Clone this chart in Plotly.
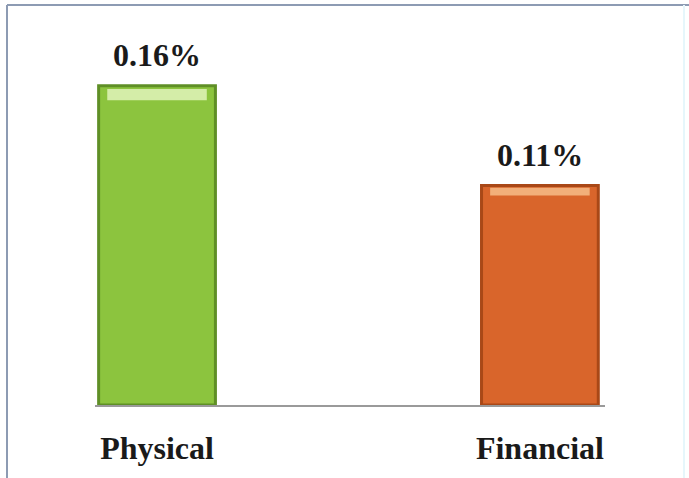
import plotly.graph_objects as go

# Share of total, in percent
categories = ["Physical", "Financial"]
values = [0.16, 0.11]
value_labels = ["0.16%", "0.11%"]
fill_colors = ["#8cc43e", "#d9652b"]
edge_colors = ["#5f8f26", "#a94817"]
highlight_colors = ["rgba(230,248,195,0.8)", "rgba(250,200,150,0.75)"]

SERIF = "Liberation Serif, Times New Roman, serif"

W, H = 689, 478
ML, MR, MT, MB = 95, 84, 6, 73
pw, ph = W - ML - MR, H - MT - MB

fig = go.Figure()

fig.add_trace(go.Bar(
    x=categories,
    y=values,
    width=0.305,
    marker=dict(color=fill_colors, line=dict(color=edge_colors, width=3)),
    hoverinfo="skip",
))

# light bevel strip along the top of each bar
fig.add_trace(go.Bar(
    x=categories,
    y=[v * 0.035 for v in values],
    base=[v * 0.955 for v in values],
    width=0.26,
    marker=dict(color=highlight_colors, line=dict(width=0)),
    hoverinfo="skip",
))

for cat, v, lab in zip(categories, values, value_labels):
    fig.add_annotation(
        x=cat, y=v, text=f"<b>{lab}</b>", showarrow=False,
        yanchor="bottom", yshift=11,
        font=dict(family=SERIF, size=32, color="#1a1a1a"),
    )

# outer frame (left and top edges visible, faint right edge)
def px(xp):
    return (xp - ML) / pw

def py(yp):
    return 1 - (yp - MT) / ph

fig.add_shape(type="line", xref="paper", yref="paper",
              x0=px(7), x1=px(689), y0=py(5), y1=py(5),
              line=dict(color="#8d9bb3", width=2))
fig.add_shape(type="line", xref="paper", yref="paper",
              x0=px(7), x1=px(7), y0=py(5), y1=py(478),
              line=dict(color="#8d9bb3", width=2))
fig.add_shape(type="line", xref="paper", yref="paper",
              x0=px(684), x1=px(684), y0=py(5), y1=py(478),
              line=dict(color="#e6f6fb", width=2))

fig.update_layout(
    width=W, height=H,
    margin=dict(l=ML, r=MR, t=MT, b=MB),
    paper_bgcolor="white",
    plot_bgcolor="white",
    barmode="overlay",
    showlegend=False,
    xaxis=dict(
        range=[-0.162, 1.170],
        showline=True, linecolor="#9a9a9a", linewidth=2,
        showgrid=False, zeroline=False,
        tickmode="array", tickvals=categories,
        ticktext=[f"<b>{c}</b>" for c in categories],
        ticks="outside", ticklen=14, tickcolor="rgba(0,0,0,0)",
        tickfont=dict(family=SERIF, size=32, color="#1a1a1a"),
    ),
    yaxis=dict(
        range=[0, 0.2],
        visible=False,
        showgrid=False, zeroline=False,
    ),
)

fig.write_html("out.html")
